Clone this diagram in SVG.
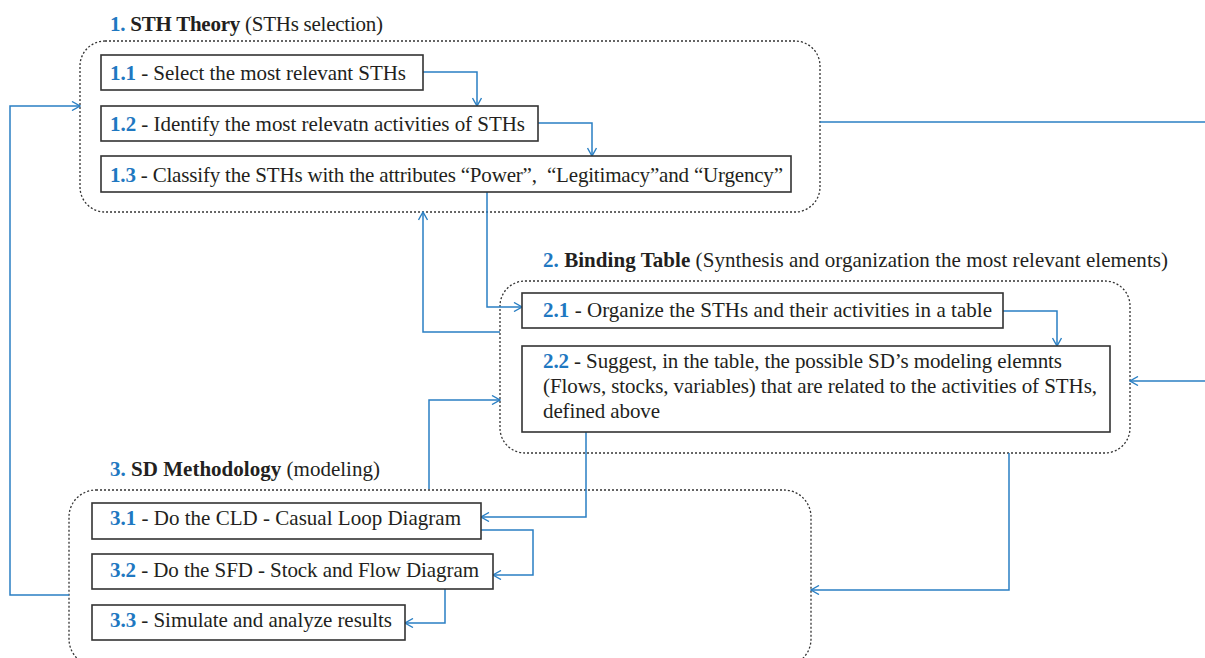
<svg xmlns="http://www.w3.org/2000/svg" width="1205" height="658" viewBox="0 0 1205 658">
<defs>
<style>
.grp{fill:none;stroke:#333;stroke-width:1.3;stroke-dasharray:2 2}
.box{fill:#fff;stroke:#333;stroke-width:1.6}
.t{font-family:"Liberation Serif","Times New Roman",serif;font-size:21px;fill:#231f20}
.n{fill:#1f78c1;font-weight:bold}
.b{font-weight:bold}
.c{fill:none;stroke:#2a7fc3;stroke-width:1.5}
</style>
<marker id="ah" viewBox="0 0 10 10" refX="9" refY="5" markerWidth="10" markerHeight="10" markerUnits="userSpaceOnUse" orient="auto">
<path d="M1,0.5 L9,5 L1,9.5" fill="none" stroke="#2a7fc3" stroke-width="1.4"/>
</marker>
</defs>
<rect width="1205" height="658" fill="#fff"/>

<g id="group1">
<text class="t" x="110" y="31" textLength="273" lengthAdjust="spacing"><tspan class="n">1.</tspan><tspan class="b"> STH Theory</tspan> (STHs selection)</text>
<rect class="grp" x="80" y="41" width="740" height="171" rx="25" ry="25"/>
</g>
<g id="group2">
<text class="t" x="543" y="267" textLength="625" lengthAdjust="spacing"><tspan class="n">2.</tspan><tspan class="b"> Binding Table</tspan> (Synthesis and organization the most relevant elements)</text>
<rect class="grp" x="500" y="281" width="630" height="172" rx="25" ry="25"/>
</g>
<g id="group3">
<text class="t" x="110" y="476" textLength="270" lengthAdjust="spacing"><tspan class="n">3.</tspan><tspan class="b"> SD Methodology</tspan> (modeling)</text>
<rect class="grp" x="69" y="490" width="742" height="176" rx="27" ry="27"/>
</g>

<g id="connectors">
<path class="c" d="M423,72 H477 V106" marker-end="url(#ah)"/>
<path class="c" d="M538,123 H592 V156" marker-end="url(#ah)"/>
<path class="c" d="M487,192 V307 H522" marker-end="url(#ah)"/>
<path class="c" d="M500,332 H423 V212" marker-end="url(#ah)"/>
<path class="c" d="M429,489 V400 H500" marker-end="url(#ah)"/>
<path class="c" d="M1003,311 H1057 V346" marker-end="url(#ah)"/>
<path class="c" d="M1205,381 H1130" marker-end="url(#ah)"/>
<path class="c" d="M820,122 H1205"/>
<path class="c" d="M586,432 V517 H481" marker-end="url(#ah)"/>
<path class="c" d="M481,530 H533 V575 H493" marker-end="url(#ah)"/>
<path class="c" d="M445,589 V623 H405" marker-end="url(#ah)"/>
<path class="c" d="M1009,453 V590 H811" marker-end="url(#ah)"/>
<path class="c" d="M69,595 H10 V106 H80" marker-end="url(#ah)"/>
</g>

<g id="n11">
<rect class="box" x="101" y="55" width="322" height="35"/>
<text class="t" x="110" y="80" textLength="296" lengthAdjust="spacing"><tspan class="n">1.1</tspan> - Select the most relevant STHs</text>
</g>
<g id="n12">
<rect class="box" x="101" y="106" width="437" height="35"/>
<text class="t" x="110" y="131" textLength="415" lengthAdjust="spacing"><tspan class="n">1.2</tspan> - Identify the most relevatn activities of STHs</text>
</g>
<g id="n13">
<rect class="box" x="101" y="156" width="690" height="36"/>
<text class="t" x="110" y="182" textLength="673" lengthAdjust="spacing"><tspan class="n">1.3</tspan> - Classify the STHs with the attributes “Power”, &#160;“Legitimacy”and “Urgency”</text>
</g>
<g id="n21">
<rect class="box" x="522" y="293" width="481" height="35"/>
<text class="t" x="543" y="317" textLength="449" lengthAdjust="spacing"><tspan class="n">2.1</tspan> - Organize the STHs and their activities in a table</text>
</g>
<g id="n22">
<rect class="box" x="522" y="346" width="588" height="86"/>
<text class="t" x="543" y="368" textLength="519" lengthAdjust="spacing"><tspan class="n">2.2</tspan> - Suggest, in the table, the possible SD’s modeling elemnts</text>
<text class="t" x="543" y="393" textLength="554" lengthAdjust="spacing">(Flows, stocks, variables) that are related to the activities of STHs,</text>
<text class="t" x="543" y="418" textLength="117" lengthAdjust="spacing">defined above</text>
</g>
<g id="n31">
<rect class="box" x="92" y="503" width="389" height="36"/>
<text class="t" x="110" y="525" textLength="351" lengthAdjust="spacing"><tspan class="n">3.1</tspan> - Do the CLD - Casual Loop Diagram</text>
</g>
<g id="n32">
<rect class="box" x="92" y="554" width="401" height="35"/>
<text class="t" x="110" y="577" textLength="369" lengthAdjust="spacing"><tspan class="n">3.2</tspan> - Do the SFD - Stock and Flow Diagram</text>
</g>
<g id="n33">
<rect class="box" x="92" y="605" width="313" height="35"/>
<text class="t" x="110" y="627" textLength="282" lengthAdjust="spacing"><tspan class="n">3.3</tspan> - Simulate and analyze results</text>
</g>
</svg>
